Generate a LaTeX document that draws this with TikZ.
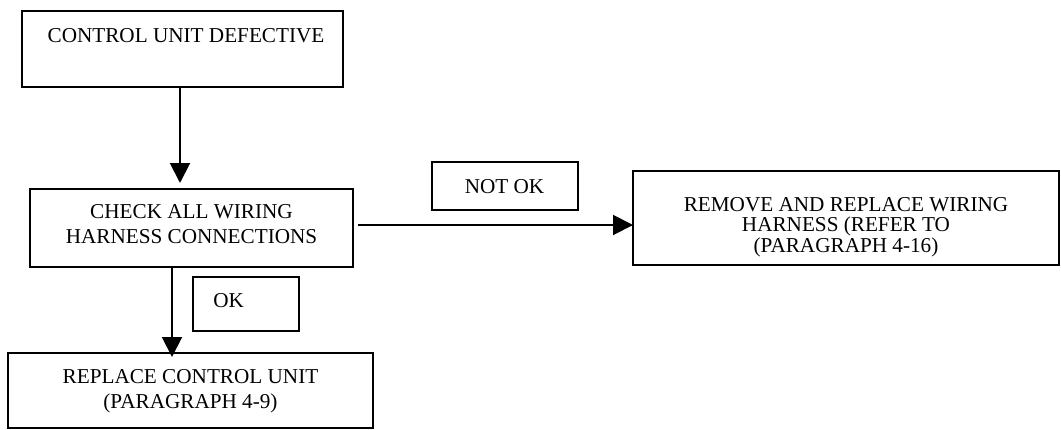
\documentclass[tikz,border=0pt]{standalone}
\usepackage{fontspec}
\setmainfont{Liberation Serif}
\usetikzlibrary{arrows.meta,calc}

\begin{document}
\begin{tikzpicture}[
    x=0.5pt, y=-0.5pt,
    font=\fontsize{10.6}{12.5}\selectfont,
    box/.style={rectangle, draw, line width=1pt, inner sep=0pt, outer sep=0pt},
    caption/.style={inner sep=0pt, align=center},
    arrow/.style={-{Triangle[length=10pt, width=10pt]}, line width=1pt}
]
    \useasboundingbox (0,0) rectangle (1061,429);

    % boxes
    \node[box, minimum width=160.5pt, minimum height=38pt] (defect) at (182.5,49) {};
    \node[box, minimum width=161.5pt, minimum height=39pt] (check) at (191.5,228) {};
    \node[box, minimum width=53pt, minimum height=27pt] (ok) at (246,304) {};
    \node[box, minimum width=182.5pt, minimum height=37.5pt] (replace) at (190.5,390.5) {};
    \node[box, minimum width=73pt, minimum height=24pt] (notok) at (505,186) {};
    \node[box, minimum width=213pt, minimum height=47pt] (harness) at (846,218) {};

    % texts
    \node[caption, anchor=base] (defect-text) at (186,42) {CONTROL UNIT DEFECTIVE};
    \node[caption] (check-text) at (191.5,224) {CHECK ALL WIRING\\HARNESS CONNECTIONS};
    \node[caption, anchor=base west] (ok-text) at (213,307) {OK};
    \node[caption] (replace-text) at (190.5,391) {REPLACE CONTROL UNIT\\(PARAGRAPH 4-9)};
    \node[caption, anchor=base] (notok-text) at (504.5,193) {NOT OK};
    \node[caption, font=\fontsize{10.6}{10.25}\selectfont] (harness-text) at (846,227)
        {REMOVE AND REPLACE WIRING\\HARNESS (REFER TO\\(PARAGRAPH 4-16)};

    % connectors
    \draw[arrow, shorten >=3pt] ([xshift=-1.25pt]defect.south) -- ([xshift=-1.25pt]defect.south |- check.north);
    \draw[arrow, shorten >=-2pt] ([xshift=-9.75pt]check.south) -- ([xshift=-9.75pt]check.south |- replace.north);
    \draw[arrow, shorten <=2.5pt] ([yshift=1.5pt]check.east) -- ([yshift=1.5pt]check.east -| harness.west);
\end{tikzpicture}
\end{document}
